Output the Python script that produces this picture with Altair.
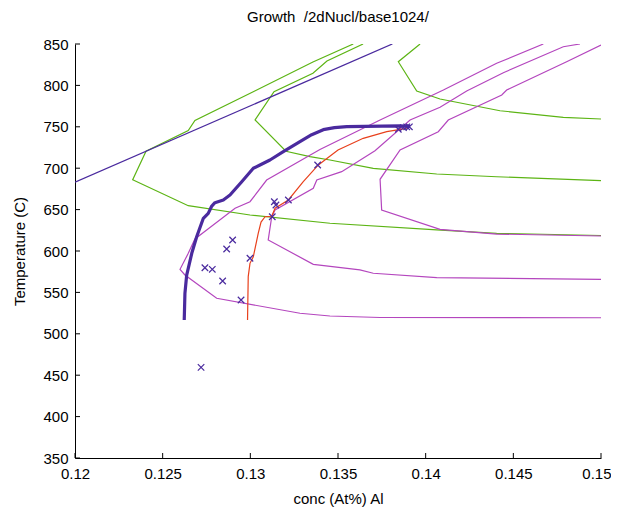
import altair as alt
import pandas as pd

x_ticks = [0.12, 0.125, 0.13, 0.135, 0.14, 0.145, 0.15]
y_ticks = [350, 400, 450, 500, 550, 600, 650, 700, 750, 800, 850]

# straight boundary line
boundary_x = [0.12, 0.1381]
boundary_T = [683, 850]

# thick growth curve
growth_x = [0.12623, 0.12627, 0.12637, 0.12666, 0.12694, 0.12732, 0.12760, 0.12780, 0.12798,
            0.12846, 0.12884, 0.12951, 0.13017, 0.13055, 0.13112, 0.13188, 0.13283, 0.13350,
            0.13416, 0.13480, 0.13550, 0.13854, 0.13911]
growth_T = [516.7, 548.9, 571.0, 597.2, 617.3, 639.5, 645.5, 654.3, 658.3,
            661.6, 667.6, 683.7, 699.9, 703.9, 709.9, 719.9, 732.0, 740.5,
            746.5, 749.0, 750.3, 751.0, 750.4]

# red curve
red_x = [0.12984, 0.12988, 0.12998, 0.13017, 0.13045, 0.13061, 0.13084, 0.13122, 0.13141,
         0.13217, 0.13302, 0.13388, 0.13500, 0.13644, 0.13778, 0.13892]
red_T = [516.7, 569.0, 585.1, 593.1, 621.4, 635.0, 641.4, 642.0, 651.6,
         661.6, 683.7, 703.9, 722.0, 736.1, 744.1, 748.2]

# green curves
g1_x = [0.15, 0.14405, 0.14063, 0.13454, 0.12998, 0.12646, 0.12329, 0.12405, 0.12646,
        0.12684, 0.13008, 0.13357, 0.13587]
g1_T = [618.7, 621.4, 625.4, 633.5, 643.5, 654.7, 686.0, 720.4, 745.5,
        757.6, 791.4, 828.3, 850.0]
g2_x = [0.15, 0.14405, 0.14063, 0.13701, 0.13454, 0.13340, 0.13203, 0.13027, 0.13135,
        0.13357, 0.13437, 0.13643]
g2_T = [684.9, 689.7, 693.0, 699.9, 709.9, 713.9, 720.5, 758.2, 792.4,
        814.6, 829.5, 850.0]
g3_x = [0.15, 0.14785, 0.14424, 0.14082, 0.13949, 0.13844, 0.13968]
g3_T = [759.4, 761.5, 769.4, 783.6, 793.2, 828.6, 850.0]

# magenta curves
m1_x = [0.14671, 0.14405, 0.14101, 0.13740, 0.13397, 0.13093, 0.12998, 0.12913, 0.12751,
        0.12684, 0.12646, 0.12599, 0.12627, 0.12808, 0.13283, 0.13454, 0.13740, 0.15]
m1_T = [850.0, 826.7, 794.4, 758.2, 722.6, 685.7, 659.5, 651.6, 625.4,
        614.5, 597.2, 577.9, 571.0, 542.9, 524.8, 521.5, 519.7, 519.4]
m2_x = [0.14880, 0.14785, 0.14443, 0.14234, 0.14082, 0.13911, 0.13711, 0.13521, 0.13379,
        0.13359, 0.13141, 0.13122, 0.13102, 0.13359, 0.13625, 0.13701, 0.14063, 0.15]
m2_T = [850.0, 846.7, 815.3, 793.2, 773.6, 758.2, 721.1, 695.8, 685.7,
        675.7, 649.5, 641.4, 613.3, 583.9, 577.1, 573.1, 567.8, 565.8]
m3_x = [0.15, 0.14804, 0.14462, 0.14434, 0.14129, 0.14072, 0.13854, 0.13740, 0.13749,
        0.14082, 0.14405, 0.15]
m3_T = [848.8, 828.6, 794.4, 788.4, 758.2, 744.1, 722.0, 686.6, 649.5,
        626.2, 620.5, 618.1]

# cross markers
pts_x = [0.12719, 0.12741, 0.12783, 0.12842, 0.12865, 0.12899, 0.12947, 0.12998, 0.13125,
         0.13137, 0.13146, 0.13217, 0.13384, 0.13844, 0.13873, 0.13892, 0.13907]
pts_T = [459.5, 579.8, 577.9, 563.8, 602.4, 613.3, 540.8, 591.2, 641.4,
         659.5, 655.6, 661.6, 703.9, 747.0, 749.0, 750.0, 750.0]


def series(name, xs, ts):
    return pd.DataFrame({"x": xs, "T": ts, "s": name, "i": list(range(len(xs)))})


FONT = "Liberation Sans"
PURPLE = "#4a2a9e"
GREEN = "#5cb414"
MAGENTA = "#b446be"
RED = "#e8401c"

LAST = "datum.value >= 0.1499"

x_enc = alt.X("x:Q",
              scale=alt.Scale(domain=[0.12, 0.15], nice=False, zero=False),
              axis=alt.Axis(values=x_ticks, format=".3~f", title="conc (At%) Al",
                            ticks=False, tickSize=0, grid=False, labelPadding=8,
                            titlePadding=10, labelFlush=False,
                            labelAlign={"condition": {"test": LAST, "value": "right"},
                                        "value": "center"},
                            labelOffset={"condition": {"test": LAST, "value": 10},
                                         "value": 0}))
y_enc = alt.Y("T:Q",
              scale=alt.Scale(domain=[350, 850], nice=False, zero=False),
              axis=alt.Axis(values=y_ticks, title="Temperature (C)",
                            ticks=False, tickSize=0, grid=False, labelPadding=7,
                            titlePadding=15, labelFlush=False))

green_df = pd.concat([series("g1", g1_x, g1_T), series("g2", g2_x, g2_T),
                      series("g3", g3_x, g3_T)])
mag_df = pd.concat([series("m1", m1_x, m1_T), series("m2", m2_x, m2_T),
                    series("m3", m3_x, m3_T)])

green = alt.Chart(green_df).mark_line(color=GREEN, strokeWidth=1.2, clip=True).encode(
    x=x_enc, y=y_enc, detail="s:N", order="i:Q")
mag = alt.Chart(mag_df).mark_line(color=MAGENTA, strokeWidth=1.2, clip=True).encode(
    x=x_enc, y=y_enc, detail="s:N", order="i:Q")
bound = alt.Chart(series("b", boundary_x, boundary_T)).mark_line(
    color=PURPLE, strokeWidth=1.3, clip=True).encode(x=x_enc, y=y_enc, order="i:Q")
red = alt.Chart(series("r", red_x, red_T)).mark_line(
    color=RED, strokeWidth=1.2, clip=True).encode(x=x_enc, y=y_enc, order="i:Q")
growth = alt.Chart(series("gr", growth_x, growth_T)).mark_line(
    color=PURPLE, strokeWidth=3.2, clip=True, strokeJoin="round").encode(
    x=x_enc, y=y_enc, order="i:Q")
pts = alt.Chart(series("p", pts_x, pts_T)).mark_point(
    shape="M-1,-1L1,1M-1,1L1,-1", size=42, filled=False, color=PURPLE,
    strokeWidth=1.2, opacity=1).encode(x=x_enc, y=y_enc)

xt = alt.Chart(pd.DataFrame({"x": x_ticks})).mark_rule(color="black", strokeWidth=1).encode(
    x=x_enc, y=alt.value(414), y2=alt.value(409))
yt = alt.Chart(pd.DataFrame({"T": y_ticks})).mark_rule(color="black", strokeWidth=1).encode(
    y=y_enc, x=alt.value(0), x2=alt.value(5))

chart = alt.layer(green, mag, bound, red, growth, pts, xt, yt).properties(
    width=526, height=414,
    autosize=alt.AutoSizeParams(type="none"),
    padding={"left": 67, "top": 36, "right": 10, "bottom": 50},
    title=alt.Title("Growth\u00a0 /2dNucl/base1024/", font=FONT, fontSize=15,
                    fontWeight="normal", color="black", offset=12),
).configure_axis(
    labelFont=FONT, labelFontSize=15, labelColor="black",
    titleFont=FONT, titleFontSize=15, titleFontWeight="normal", titleColor="black",
    domainColor="black", domainWidth=1,
).configure_view(strokeWidth=0)

chart.save("out.html", embed_options={"renderer": "svg", "actions": False})
